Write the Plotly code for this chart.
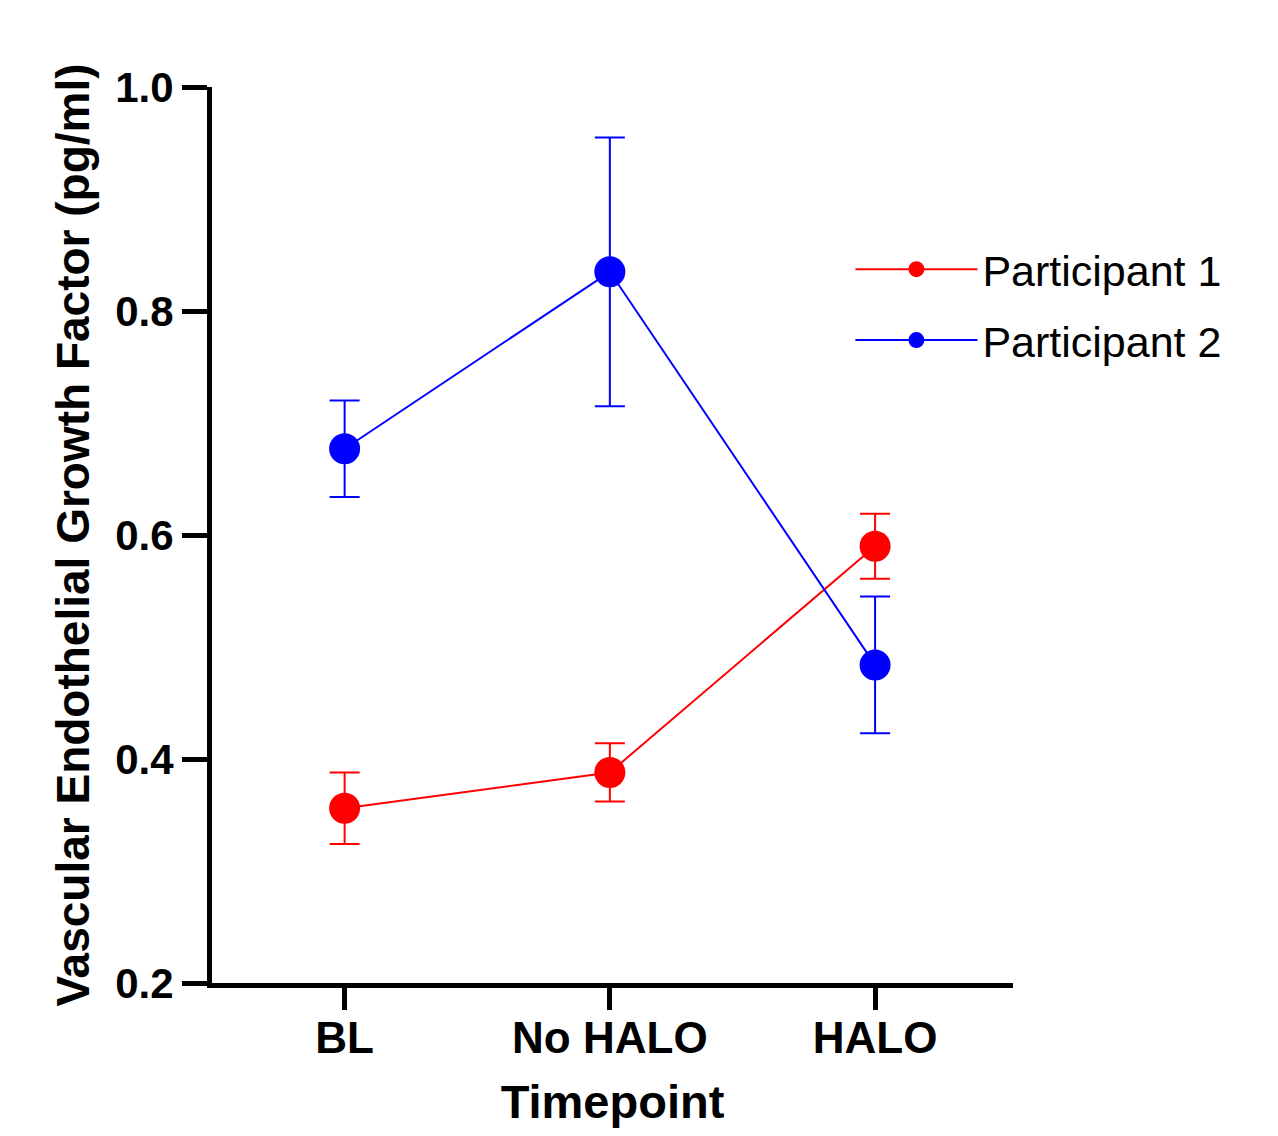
import plotly.graph_objects as go

categories = ["BL", "No HALO", "HALO"]
p1_mean = [0.356, 0.388, 0.590]
p1_err = [0.032, 0.026, 0.029]
p2_mean = [0.677, 0.835, 0.484]
p2_err = [0.043, 0.120, 0.061]
y_ticks = [0.2, 0.4, 0.6, 0.8, 1.0]
y_tick_text = ["0.2", "0.4", "0.6", "0.8", "1.0"]

FONT = "Liberation Sans, Arial, sans-serif"
x_idx = list(range(len(categories)))

fig = go.Figure()
for name, mean, err, color in [("Participant 1", p1_mean, p1_err, "#ff0000"),
                                ("Participant 2", p2_mean, p2_err, "#0000ff")]:
    fig.add_trace(go.Scatter(
        x=x_idx, y=mean, name=name, legendgroup=name, mode="lines+markers",
        line=dict(color=color, width=2),
        marker=dict(color=color, size=31),
        error_y=dict(type="data", array=err, visible=True, color=color,
                     thickness=2, width=15),
    ))

fig.update_layout(
    width=1262, height=1120,
    paper_bgcolor="white", plot_bgcolor="white",
    margin=dict(l=204, r=257, t=79, b=145),
    font=dict(family=FONT, color="black"),
    legend=dict(x=0.797, y=0.757, xanchor="left", yanchor="middle",
                font=dict(size=43, family=FONT, color="black"),
                traceorder="grouped", tracegroupgap=12, itemwidth=122,
                bgcolor="rgba(0,0,0,0)"),
)
fig.update_xaxes(
    range=[-0.5, 2.52], tickmode="array", tickvals=x_idx, ticktext=categories,
    showline=True, linecolor="black", linewidth=5, showgrid=False, zeroline=False,
    ticks="outside", ticklen=22, tickwidth=5, tickcolor="black",
    ticklabelstandoff=-10, automargin=False,
    tickfont=dict(size=44, family=FONT, weight="bold"),
    title=dict(text="Timepoint", font=dict(size=47, family=FONT, weight="bold"), standoff=36),
)
fig.update_yaxes(
    range=[0.2, 1.0], tickmode="array", tickvals=y_ticks, ticktext=y_tick_text,
    showline=True, linecolor="black", linewidth=5, showgrid=False, zeroline=False,
    ticks="outside", ticklen=25, tickwidth=5, tickcolor="black", automargin=False,
    tickfont=dict(size=42, family=FONT, weight="bold"),
    title=dict(text="Vascular Endothelial Growth Factor (pg/ml)",
               font=dict(size=46, family=FONT, weight="bold"), standoff=13),
)
fig.write_html("out.html")
